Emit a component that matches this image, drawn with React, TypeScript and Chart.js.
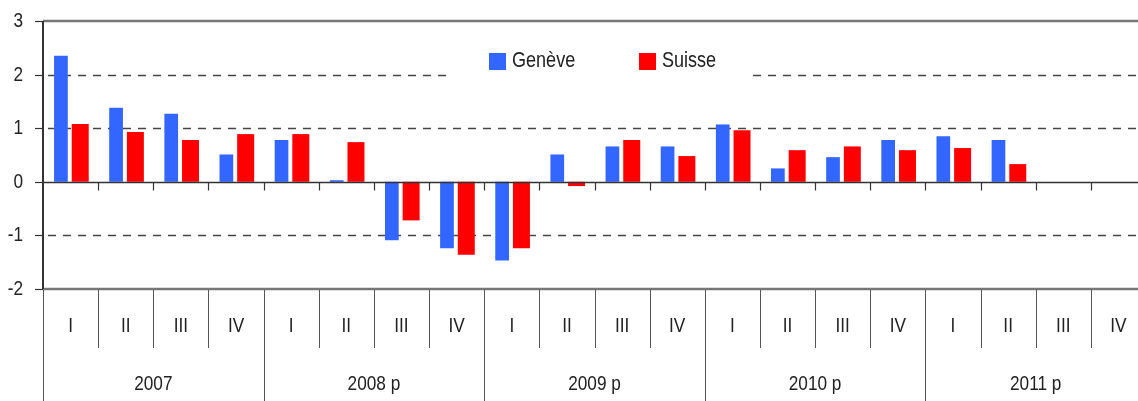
import React, { useEffect, useRef } from "react";
import { Chart, registerables } from "chart.js";
Chart.register(...registerables);

const quarters = ["I", "II", "III", "IV", "I", "II", "III", "IV", "I", "II", "III", "IV", "I", "II", "III", "IV", "I", "II", "III", "IV"];
const years = ["2007", "2008 p", "2009 p", "2010 p", "2011 p"];
const geneve = [2.35, 1.38, 1.27, 0.51, 0.78, 0.03, -1.09, -1.24, -1.47, 0.51, 0.66, 0.66, 1.07, 0.25, 0.46, 0.78, 0.85, 0.78, null, null];
const suisse = [1.08, 0.93, 0.78, 0.89, 0.89, 0.74, -0.72, -1.36, -1.24, -0.08, 0.78, 0.48, 0.96, 0.59, 0.66, 0.59, 0.63, 0.33, null, null];
const seriesNames = ["Genève", "Suisse"];
const seriesColors = ["#3366FF", "#FF0000"];
const yTickValues = [3, 2, 1, 0, -1, -2];
const dashedLevels = [2, 1, -1];

const FONT = "'Liberation Sans', Arial, sans-serif";
const NARROW = 0.82;

function narrowText(ctx: CanvasRenderingContext2D, text: string, x: number, y: number, align: CanvasTextAlign, size: number) {
  ctx.save();
  ctx.translate(x, y);
  ctx.scale(NARROW, 1);
  ctx.font = `${size}px ${FONT}`;
  ctx.textAlign = align;
  ctx.textBaseline = "middle";
  ctx.fillText(text, 0, 0);
  ctx.restore();
}

const decorPlugin = {
  id: "decor",
  beforeDatasetsDraw(chart: any) {
    const { ctx, chartArea } = chart;
    const y = chart.scales.y;
    ctx.save();
    ctx.strokeStyle = "#444";
    ctx.lineWidth = 1.3;
    ctx.setLineDash([8, 7]);
    dashedLevels.forEach((v) => {
      const py = Math.round(y.getPixelForValue(v)) + 0.5;
      ctx.beginPath();
      ctx.moveTo(chartArea.left + 5, py);
      ctx.lineTo(chartArea.right, py);
      ctx.stroke();
    });
    ctx.setLineDash([]);
    ctx.fillStyle = "#fff";
    ctx.fillRect(451, 35, 299, 65);
    ctx.restore();
  },
  afterDatasetsDraw(chart: any) {
    const { ctx, chartArea } = chart;
    const x = chart.scales.x;
    const y = chart.scales.y;
    const H = chart.height;
    const n = quarters.length;
    const cw = (chartArea.right - chartArea.left) / n;
    ctx.save();
    // top and bottom borders
    [chartArea.top, chartArea.bottom].forEach((py) => {
      ctx.strokeStyle = "#777";
      ctx.lineWidth = 2.5;
      ctx.beginPath();
      ctx.moveTo(chartArea.left, py);
      ctx.lineTo(chartArea.right, py);
      ctx.stroke();
    });
    // zero line
    const y0 = Math.round(y.getPixelForValue(0)) + 0.5;
    ctx.strokeStyle = "#333";
    ctx.lineWidth = 1.5;
    ctx.beginPath();
    ctx.moveTo(chartArea.left, y0);
    ctx.lineTo(chartArea.right, y0);
    ctx.stroke();
    ctx.lineWidth = 1.2;
    for (let i = 1; i < n; i++) {
      const px = Math.round(x.getPixelForValue(i) - cw / 2) + 0.5;
      ctx.beginPath();
      ctx.moveTo(px, y0);
      ctx.lineTo(px, y0 + 8);
      ctx.stroke();
    }
    // left axis and y ticks
    ctx.strokeStyle = "#333";
    ctx.lineWidth = 2;
    ctx.beginPath();
    ctx.moveTo(chartArea.left, chartArea.top);
    ctx.lineTo(chartArea.left, chartArea.bottom);
    ctx.stroke();
    ctx.lineWidth = 1.2;
    ctx.fillStyle = "#222";
    yTickValues.forEach((v) => {
      const py = Math.round(y.getPixelForValue(v)) + 0.5;
      ctx.beginPath();
      ctx.moveTo(chartArea.left - 8, py);
      ctx.lineTo(chartArea.left, py);
      ctx.stroke();
      narrowText(ctx, String(v), 23, py, "right", 21);
    });
    // separators below axis
    ctx.strokeStyle = "#555";
    ctx.lineWidth = 1;
    for (let i = 0; i <= n; i++) {
      const px = Math.round(x.getPixelForValue(i) - cw / 2) + 0.5;
      const isYear = i % 4 === 0;
      ctx.beginPath();
      ctx.moveTo(px, chartArea.bottom + 1);
      ctx.lineTo(px, isYear ? H : chartArea.bottom + 59);
      ctx.stroke();
    }
    // category labels
    ctx.fillStyle = "#222";
    quarters.forEach((q, i) => {
      narrowText(ctx, q, x.getPixelForValue(i), chartArea.bottom + 37, "center", 21);
    });
    years.forEach((yr, j) => {
      const cx = (x.getPixelForValue(j * 4) + x.getPixelForValue(j * 4 + 3)) / 2;
      narrowText(ctx, yr, cx, chartArea.bottom + 95, "center", 21);
    });
    // legend
    const legendX = [489, 639];
    seriesNames.forEach((name, k) => {
      ctx.fillStyle = seriesColors[k];
      ctx.fillRect(legendX[k], 53, 17, 17);
      ctx.fillStyle = "#222";
      narrowText(ctx, name, legendX[k] + 23, 61, "left", 22);
    });
    ctx.restore();
  },
};

export default function App() {
  const ref = useRef<HTMLCanvasElement>(null);
  useEffect(() => {
    document.body.style.margin = "0";
    const chart = new Chart(ref.current!, {
      type: "bar",
      data: {
        labels: quarters,
        datasets: [
          { label: seriesNames[0], data: geneve, backgroundColor: seriesColors[0], barPercentage: 0.71, categoryPercentage: 0.7 },
          { label: seriesNames[1], data: suisse, backgroundColor: seriesColors[1], barPercentage: 0.88, categoryPercentage: 0.7 },
        ],
      },
      options: {
        responsive: false,
        animation: false,
        layout: { padding: { top: 21, right: 0, left: 0, bottom: 0 } },
        plugins: { legend: { display: false }, tooltip: { enabled: false } },
        scales: {
          x: {
            grid: { display: false },
            ticks: { display: false },
            border: { display: false },
            afterFit: (s: any) => { s.height = 112; },
          },
          y: {
            min: -2,
            max: 3,
            ticks: { display: false, stepSize: 1 },
            grid: { display: false },
            border: { display: false },
            afterFit: (s: any) => { s.width = 43; },
          },
        },
      },
      plugins: [decorPlugin],
    } as any);
    return () => chart.destroy();
  }, []);
  return (
    <div style={{ position: "absolute", left: 0, top: 0, width: 1138, height: 401, overflow: "hidden", background: "#fff" }}>
      <canvas ref={ref} width={1146} height={401} style={{ display: "block" }} />
    </div>
  );
}
